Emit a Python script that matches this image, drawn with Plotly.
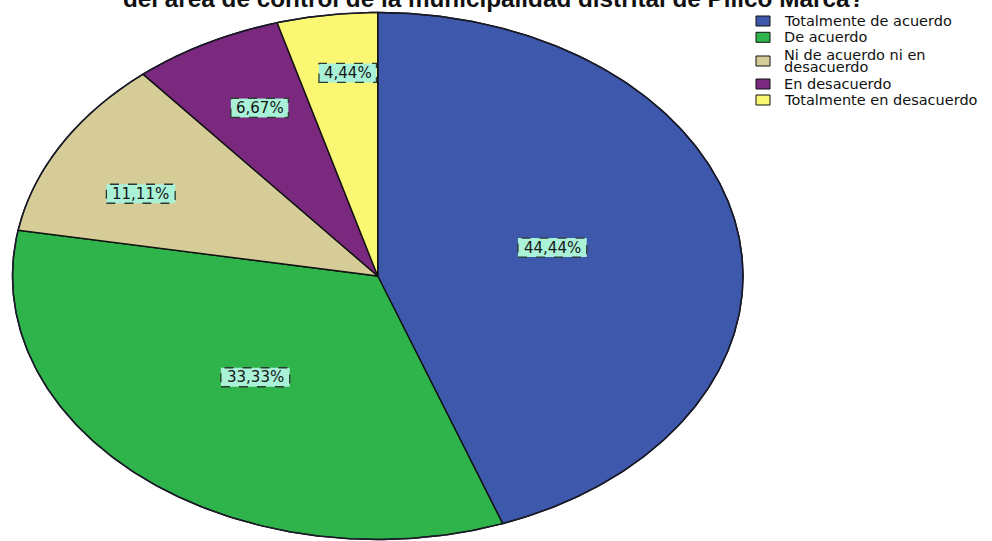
import numpy as np
import plotly.graph_objects as go

# ---- data -------------------------------------------------------------
categories = [
    "Totalmente de acuerdo",
    "De acuerdo",
    "Ni de acuerdo ni en\ndesacuerdo",
    "En desacuerdo",
    "Totalmente en desacuerdo",
]
percentages = [44.44, 33.33, 11.11, 6.67, 4.44]
title_text = "del área de control de la municipalidad distrital de Pillco Marca?"

# ---- styling ----------------------------------------------------------
colors = ["#3E58AC", "#2FB44B", "#D5CC98", "#7A297E", "#FAF772"]
label_fill = "#A9F2D8"
label_radius = [0.49, 0.51, 0.72, 0.715, 0.775]   # fraction of the pie radius
label_shift = [-2.7, 1.1, -4.3, 1.1, 1.9]        # degrees off the slice's mid-angle

W, H = 992, 541
# pie is drawn as a unit circle; the axes stretch it into an ellipse
CX, CY = 377.75, 276.0      # centre (px)
RX, RY = 365.25, 263.5      # horizontal / vertical radius (px)

x_range = [(0 - CX) / RX, (W - CX) / RX]
y_range = [-(H - CY) / RY, CY / RY]

fig = go.Figure()

total = sum(percentages)
start = 0.0
mids = []
for cat, pct, col in zip(categories, percentages, colors):
    span = 360.0 * pct / total
    th = np.radians(np.linspace(start, start + span, max(int(span * 2), 8)))
    xs = np.concatenate([[0.0], np.sin(th), [0.0]])
    ys = np.concatenate([[0.0], np.cos(th), [0.0]])
    fig.add_trace(go.Scatter(
        x=xs, y=ys, mode="lines", fill="toself", fillcolor=col,
        line=dict(color="#111111", width=1.4),
        hoverinfo="skip", showlegend=False,
    ))
    mids.append(start + span / 2)
    start += span

# outer rim
th = np.radians(np.linspace(0, 360, 721))
fig.add_trace(go.Scatter(
    x=np.sin(th), y=np.cos(th), mode="lines",
    line=dict(color="#1a1a2a", width=1.5),
    hoverinfo="skip", showlegend=False,
))

shapes = []
annotations = []

# percentage labels in dashed boxes
for pct, mid, r, sh in zip(percentages, mids, label_radius, label_shift):
    txt = f"{pct:.2f}%".replace(".", ",")
    a = np.radians(mid + sh)
    lx, ly = r * np.sin(a), r * np.cos(a)
    bw = 11.3 * len(txt) + 1
    shapes.append(dict(
        type="rect", xref="x", yref="y",
        xsizemode="pixel", ysizemode="pixel",
        xanchor=lx, yanchor=ly,
        x0=-bw / 2, x1=bw / 2, y0=-9.5, y1=9.5,
        fillcolor=label_fill,
        line=dict(color="#2b3b30", width=1.3, dash="dash"),
        layer="above",
    ))
    annotations.append(dict(
        x=lx, y=ly, xref="x", yref="y", text=txt, showarrow=False,
        font=dict(family="DejaVu Sans", size=15, color="#161616"),
        xanchor="center", yanchor="middle",
    ))

# legend
sq_left, sq_w, sq_h = 756, 14, 10
text_left = 781.5
row_square_y = [21, 37.3, 61, 84, 100]
row_text_y = [[21], [37.3], [55.3, 67.0], [84], [100]]
for cat, col, sy, tys in zip(categories, colors, row_square_y, row_text_y):
    shapes.append(dict(
        type="rect", xref="paper", yref="paper",
        x0=sq_left / W, x1=(sq_left + sq_w) / W,
        y0=1 - (sy + sq_h / 2) / H, y1=1 - (sy - sq_h / 2) / H,
        fillcolor=col, line=dict(color="#111111", width=1),
    ))
    for line_txt, ty in zip(cat.split("\n"), tys):
        annotations.append(dict(
            x=text_left / W, y=1 - ty / H, xref="paper", yref="paper",
            text=line_txt, showarrow=False,
            font=dict(family="DejaVu Sans", size=14.5, color="#111111"),
            xanchor="left", yanchor="middle",
        ))

# title (second line of a longer heading, top clipped by the page edge)
annotations.append(dict(
    x=493 / W, y=1, xref="paper", yref="paper", text=title_text,
    showarrow=False, xanchor="center", yanchor="middle", yshift=2,
    font=dict(family="Liberation Sans", size=24.3, color="#111111", weight="bold"),
))

fig.update_layout(
    width=W, height=H,
    margin=dict(l=0, r=0, t=0, b=0),
    paper_bgcolor="white", plot_bgcolor="white",
    xaxis=dict(range=x_range, visible=False, fixedrange=True),
    yaxis=dict(range=y_range, visible=False, fixedrange=True),
    shapes=shapes, annotations=annotations,
    showlegend=False,
)

fig.write_html("out.html")
